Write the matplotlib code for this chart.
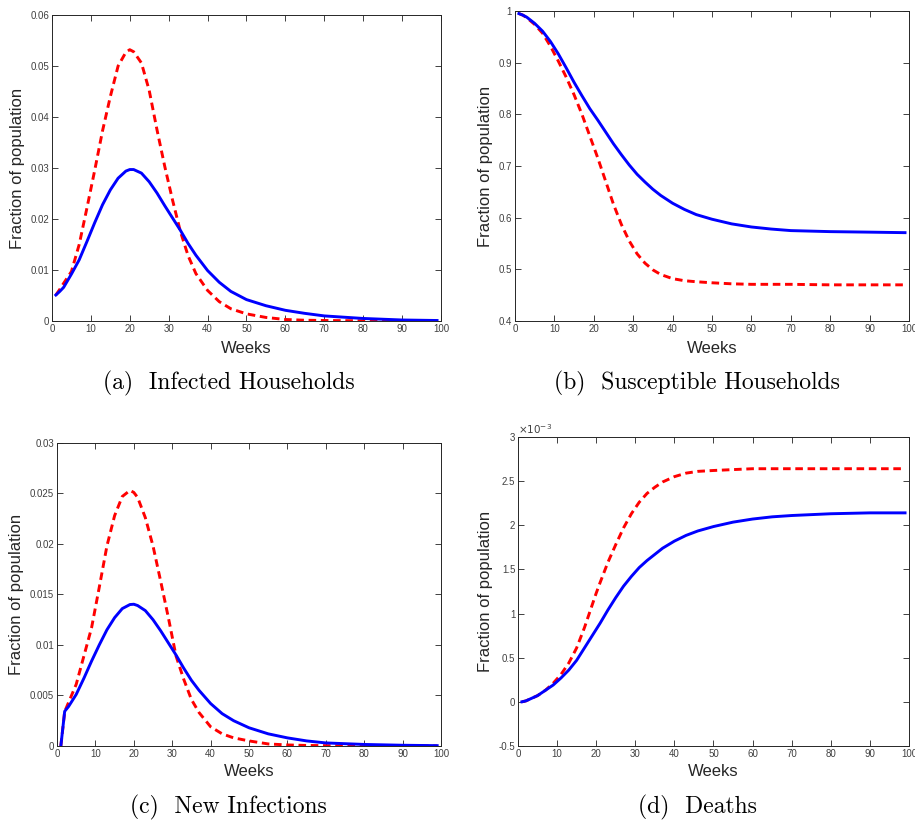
import matplotlib
matplotlib.use("Agg")
import matplotlib.pyplot as plt
from matplotlib.ticker import MultipleLocator, FuncFormatter

plt.rcParams['font.family'] = ['Liberation Sans', 'DejaVu Sans']

# sample weeks shared by every curve
weeks = [1, 2, 3, 5, 7, 9, 11, 13, 15, 17, 19, 20, 21, 23, 25, 27, 29, 31, 33,
         35, 37, 40, 43, 46, 50, 55, 60, 65, 70, 80, 90, 99]

# (a) infected households
infected_solid = [0.0051, 0.0058, 0.0066, 0.0092, 0.0120, 0.0156, 0.0193, 0.0228,
                  0.0257, 0.0280, 0.0294, 0.0297, 0.0297, 0.0290, 0.0273, 0.0251,
                  0.0226, 0.0202, 0.0178, 0.0152, 0.0129, 0.0099, 0.0076, 0.0058,
                  0.0042, 0.0030, 0.0021, 0.0015, 0.0010, 0.0005, 0.0002, 0.0001]
infected_dash = [0.0051, 0.0062, 0.0074, 0.0097, 0.0150, 0.0222, 0.0296, 0.0373,
                 0.0440, 0.0500, 0.0527, 0.0532, 0.0528, 0.0506, 0.0452, 0.0375,
                 0.0303, 0.0237, 0.0176, 0.0128, 0.0093, 0.0060, 0.0038, 0.0024,
                 0.0014, 0.0007, 0.0003, 0.00015, 0.0001, 0.00004, 0.00001, 0.0]

# (b) susceptible households
suscept_solid = [0.995, 0.992, 0.988, 0.976, 0.961, 0.941, 0.917, 0.890, 0.862,
                 0.836, 0.811, 0.800, 0.789, 0.766, 0.743, 0.722, 0.702, 0.684,
                 0.669, 0.655, 0.643, 0.628, 0.616, 0.606, 0.597, 0.588, 0.582,
                 0.578, 0.575, 0.573, 0.572, 0.571]
suscept_dash = [0.995, 0.992, 0.987, 0.974, 0.957, 0.932, 0.903, 0.872, 0.838,
                0.800, 0.758, 0.737, 0.716, 0.671, 0.626, 0.587, 0.555, 0.530,
                0.512, 0.499, 0.490, 0.482, 0.478, 0.476, 0.474, 0.472, 0.471,
                0.471, 0.471, 0.470, 0.470, 0.470]

# (c) new infections
new_solid = [0.0, 0.00343, 0.0039, 0.0051, 0.0067, 0.0084, 0.0100, 0.0115, 0.0127,
             0.0136, 0.0140, 0.01403, 0.0139, 0.0134, 0.0125, 0.0114, 0.0102,
             0.0090, 0.0077, 0.0065, 0.0055, 0.0042, 0.0032, 0.0025, 0.0018,
             0.0012, 0.0008, 0.0005, 0.0003, 0.00015, 0.00007, 0.00003]
new_dash = [0.0, 0.0034, 0.0043, 0.0061, 0.0089, 0.0117, 0.0157, 0.0198, 0.0228,
            0.0247, 0.0253, 0.0251, 0.0246, 0.0226, 0.0198, 0.0163, 0.0127,
            0.0089, 0.0066, 0.0046, 0.0033, 0.0019, 0.0012, 0.0008, 0.0005,
            0.0002, 0.0001, 0.00005, 0.00003, 0.0, 0.0, 0.0]

# (d) deaths, in units of 1e-3
deaths_solid = [0.0, 0.01, 0.03, 0.07, 0.13, 0.19, 0.27, 0.36, 0.47, 0.61, 0.75,
                0.82, 0.89, 1.04, 1.18, 1.31, 1.42, 1.52, 1.60, 1.67, 1.74, 1.82,
                1.885, 1.935, 1.985, 2.035, 2.07, 2.095, 2.11, 2.13, 2.14, 2.14]
deaths_dash = [0.0, 0.01, 0.03, 0.07, 0.13, 0.21, 0.31, 0.44, 0.61, 0.84, 1.10,
               1.23, 1.35, 1.58, 1.78, 1.97, 2.13, 2.26, 2.36, 2.43, 2.49, 2.55,
               2.59, 2.61, 2.62, 2.63, 2.64, 2.64, 2.64, 2.64, 2.64, 2.64]

panels = [
    dict(rect=[0.0568, 0.609, 0.4251, 0.3727], solid=infected_solid, dash=infected_dash,
         ylim=(0, 0.06), step=0.01, xl=-0.066, yl=-0.069,
         caption='(a)  Infected Households', cap=(0.250, 0.5335)),
    dict(rect=[0.5628, 0.609, 0.4306, 0.3776], solid=suscept_solid, dash=suscept_dash,
         ylim=(0.4, 1.0), step=0.1, xl=-0.065, yl=-0.056,
         caption='(b)  Susceptible Households', cap=(0.762, 0.5335)),
    dict(rect=[0.0623, 0.0914, 0.4197, 0.3691], solid=new_solid, dash=new_dash,
         ylim=(0, 0.03), step=0.005, xl=-0.059, yl=-0.086,
         caption='(c)  New Infections', cap=(0.250, 0.017)),
    dict(rect=[0.5661, 0.0914, 0.4273, 0.3764], solid=deaths_solid, dash=deaths_dash,
         ylim=(-0.5, 3.0), step=0.5, xl=-0.059, yl=-0.064,
         caption='(d)  Deaths', cap=(0.762, 0.017)),
]


def fmt(v, pos):
    s = ('%.4f' % v).rstrip('0').rstrip('.')
    return '0' if s in ('-0', '') else s


fig = plt.figure(figsize=(9.15, 8.21), dpi=100)

for p in panels:
    ax = fig.add_axes(p['rect'])
    ax.plot(weeks, p['dash'], color='red', lw=2.1, ls=(0, (2.6, 1.6)))
    ax.plot(weeks, p['solid'], color='blue', lw=2.1)
    ax.set_xlim(0, 100)
    ax.set_ylim(*p['ylim'])
    ax.xaxis.set_major_locator(MultipleLocator(10))
    ax.yaxis.set_major_locator(MultipleLocator(p['step']))
    ax.yaxis.set_major_formatter(FuncFormatter(fmt))
    ax.tick_params(direction='in', top=True, right=True, length=4, width=0.7,
                   labelsize=7, colors='0.25', pad=2)
    for s in ax.spines.values():
        s.set_color('0.15')
        s.set_linewidth(0.7)
    ax.set_xlabel('Weeks', fontsize=12, color='0.15')
    ax.set_ylabel('Fraction of population', fontsize=12, color='0.15')
    ax.xaxis.set_label_coords(0.5, p['xl'])
    ax.yaxis.set_label_coords(p['yl'], 0.5)
    fig.text(p['cap'][0], p['cap'][1], p['caption'], family='cmr10', fontsize=17,
             ha='center', va='center')

ax.text(0.0, 1.004, r'$\times10^{-3}$', transform=ax.transAxes, fontsize=7.5,
        color='0.25', ha='left', va='bottom')

fig.savefig('out.png', dpi=100)
